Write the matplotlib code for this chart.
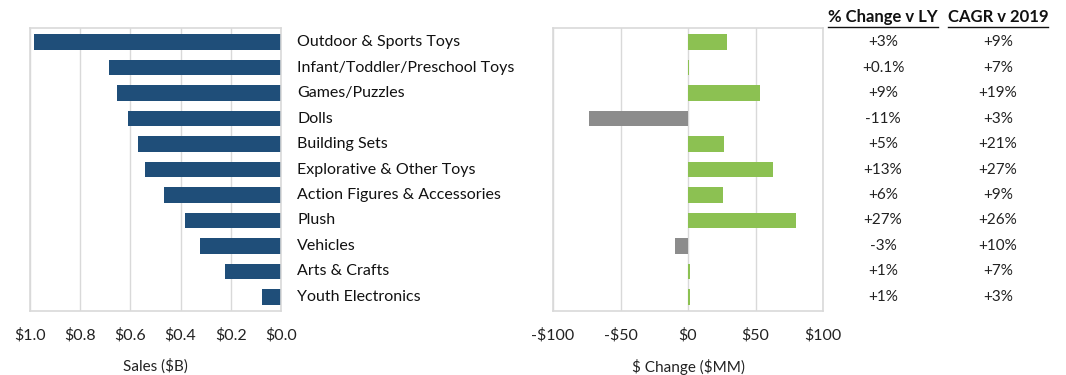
import matplotlib
matplotlib.use("Agg")
from matplotlib import pyplot as plt
from matplotlib.lines import Line2D
import matplotlib.transforms as mtrans

categories = ["Outdoor & Sports Toys", "Infant/Toddler/Preschool Toys", "Games/Puzzles",
              "Dolls", "Building Sets", "Explorative & Other Toys",
              "Action Figures & Accessories", "Plush", "Vehicles", "Arts & Crafts",
              "Youth Electronics"]
sales_b = [0.984, 0.686, 0.655, 0.611, 0.571, 0.540, 0.468, 0.381, 0.321, 0.222, 0.075]
change_mm = [29, 0.6, 53, -73, 27, 63, 26, 80, -10, 1.5, 1.2]
pct_change_ly = ["+3%", "+0.1%", "+9%", "-11%", "+5%", "+13%", "+6%", "+27%", "-3%", "+1%", "+1%"]
cagr_2019 = ["+9%", "+7%", "+19%", "+3%", "+21%", "+27%", "+9%", "+26%", "+10%", "+7%", "+3%"]

sales_ticks = [1.0, 0.8, 0.6, 0.4, 0.2, 0.0]
change_ticks = [-100, -50, 0, 50, 100]

plt.rcParams['font.family'] = ['Lato', 'DejaVu Sans']
txt = '#222222'
W, H = 1066, 375
fig = plt.figure(figsize=(W / 100, H / 100), dpi=100)

ypos = list(range(len(categories)))

def style(ax):
  for s in ax.spines.values():
    s.set_color('#d9d9d9')
    s.set_linewidth(1.2)
  ax.tick_params(length=0, labelsize=11.5, colors=txt, pad=12)
  ax.grid(axis='x', color='#d9d9d9', linewidth=1)
  ax.set_axisbelow(True)
  ax.set_yticks([])
  ax.set_ylim(len(categories) - 0.45, -0.55)

# left: sales
ax1 = fig.add_axes([30 / W, 64 / H, 251 / W, 283 / H])
ax1.barh(ypos, sales_b, height=0.62, color='#1f4e79')
ax1.set_xlim(1.0, 0.0)
ax1.set_xticks(sales_ticks)
ax1.set_xticklabels(["$%.1f" % t for t in sales_ticks])
ax1.set_xlabel(r"Sales (\$B)", fontsize=11, color=txt, labelpad=12)
style(ax1)
for i, c in enumerate(categories):
  ax1.text(1.065, i, c, transform=ax1.get_yaxis_transform(), va='center', ha='left',
           fontsize=11.5, color='#111111')

# right: $ change
ax2 = fig.add_axes([553 / W, 64 / H, 270 / W, 283 / H])
cols = ['#8cc152' if v >= 0 else '#8c8c8c' for v in change_mm]
ax2.barh(ypos, change_mm, height=0.62, color=cols)
ax2.set_xlim(-100, 100)
ax2.set_xticks(change_ticks)
ax2.set_xticklabels([("-$%d" % -t) if t < 0 else ("$%d" % t) for t in change_ticks])
ax2.set_xlabel(r"\$ Change (\$MM)", fontsize=11, color=txt, labelpad=12)
style(ax2)

# table columns
col_x = [883 / W, 998 / W]
headers = ["% Change v LY", "CAGR v 2019"]
tr = mtrans.blended_transform_factory(fig.transFigure, ax2.transData)
for cx, hd, vals in zip(col_x, headers, [pct_change_ly, cagr_2019]):
  t = fig.text(cx, 1 - 17 / H, hd, ha='center', va='center', fontsize=12,
               fontweight='bold', color='#111111')
  for i, v in enumerate(vals):
    ax2.text(cx, i, v, transform=tr, ha='center', va='center', fontsize=11, color=txt)
  fig.canvas.draw()
  bb = t.get_window_extent().transformed(fig.transFigure.inverted())
  fig.add_artist(Line2D([bb.x0, bb.x1], [bb.y0 - 0.004, bb.y0 - 0.004],
                        color='#111111', linewidth=1, transform=fig.transFigure))

fig.savefig("out.png", dpi=100)
